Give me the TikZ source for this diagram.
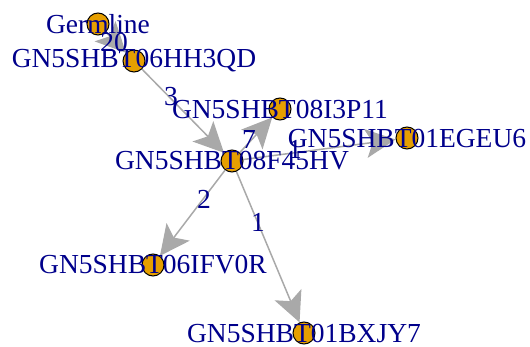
\documentclass[tikz,border=0pt]{standalone}
\usepackage{fontspec}
\setmainfont{Liberation Serif}
\usetikzlibrary{arrows.meta}
\pgfdeclarelayer{edges}
\pgfsetlayers{edges,main}
\definecolor{vfill}{HTML}{E69F00}
\definecolor{lblue}{HTML}{00008B}
\definecolor{egray}{HTML}{A9A9A9}
\begin{document}
\begin{tikzpicture}[x=1pt,y=-1pt,
  vertex/.style={circle,draw=black,line width=1pt,fill=vfill,minimum size=22pt,inner sep=0pt},
  vlabel/.style={text=lblue,font=\fontsize{27.5}{27.5}\selectfont,inner sep=0pt,anchor=center},
  elabel/.style={text=lblue,font=\fontsize{27.5}{27.5}\selectfont,inner sep=0pt,anchor=center},
  link/.style={draw=egray,line width=1.5pt,-{Stealth[length=30pt,width=29pt,inset=7pt]}}]
\useasboundingbox (0,0) rectangle (530,347);
% vertices
\node[vertex] (germ) at (98,24) {};
\node[vertex] (hh3qd) at (134,61) {};
\node[vertex] (f45hv) at (232,161) {};
\node[vertex] (i3p11) at (280,109) {};
\node[vertex] (egeu6) at (407,138) {};
\node[vertex] (ifv0r) at (153,265) {};
\node[vertex] (bxjy7) at (304,333) {};
% edges
\begin{pgfonlayer}{edges}
\draw[link] (germ) -- (hh3qd);
\draw[link] (hh3qd) -- (f45hv);
\draw[link] (f45hv) -- (i3p11);
\draw[link] (f45hv) -- (egeu6);
\draw[link] (f45hv) -- (ifv0r);
\draw[link] (f45hv) -- (bxjy7);
\end{pgfonlayer}
% edge weights
\node[elabel] (w1) at (114,42) {20};
\node[elabel] (w2) at (171,97) {3};
\node[elabel] (w3) at (249,139) {7};
\node[elabel] (w4) at (295,149) {1};
\node[elabel] (w5) at (204,199) {2};
\node[elabel] (w6) at (258,222) {1};
% vertex names
\node[vlabel] (tgerm) at (germ.center) {Germline};
\node[vlabel] (thh3qd) at (hh3qd.center) {GN5SHBT06HH3QD};
\node[vlabel] (tf45hv) at (f45hv.center) {GN5SHBT08F45HV};
\node[vlabel] (ti3p11) at (i3p11.center) {GN5SHBT08I3P11};
\node[vlabel] (tegeu6) at (egeu6.center) {GN5SHBT01EGEU6};
\node[vlabel] (tifv0r) at (ifv0r.center) {GN5SHBT06IFV0R};
\node[vlabel] (tbxjy7) at (bxjy7.center) {GN5SHBT01BXJY7};
\end{tikzpicture}
\end{document}
